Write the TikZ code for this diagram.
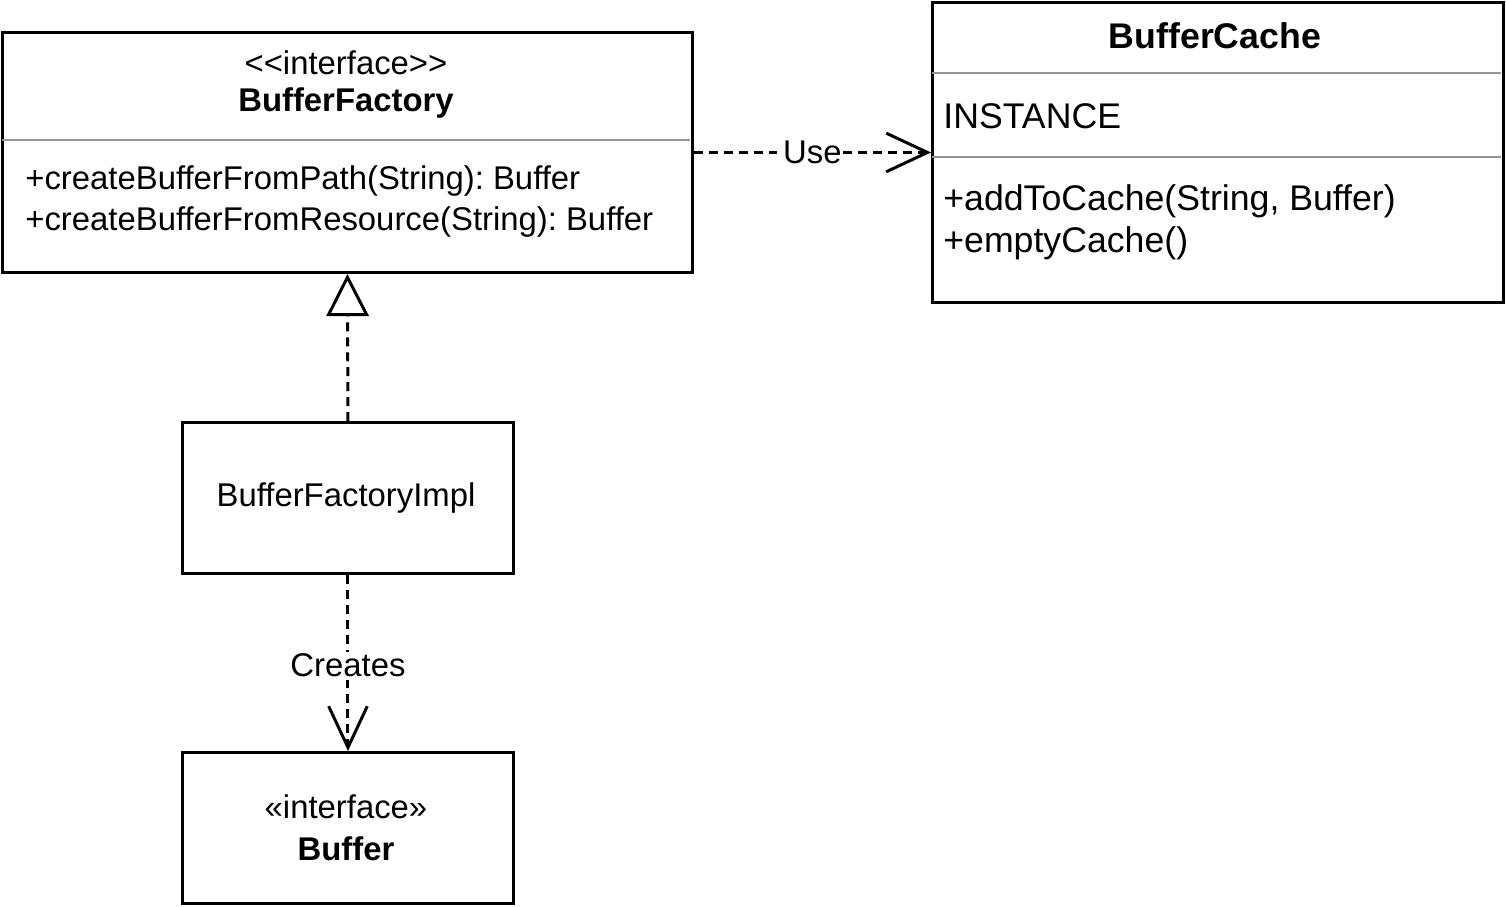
\documentclass[tikz,border=0pt]{standalone}
\usepackage{fontspec}
\setmainfont{Liberation Sans}
\usetikzlibrary{arrows.meta, positioning}
\definecolor{sepgray}{RGB}{150,150,150}
\frenchspacing
\tikzset{
  classbox/.style={rectangle, draw=black, line width=1.7pt, inner sep=0pt, anchor=north west},
  sepline/.style={draw=sepgray, line width=1.7pt},
  txt/.style={inner sep=0pt, font=\fontsize{18.7}{22}\selectfont},
  bigtxt/.style={inner sep=0pt, font=\fontsize{20.3}{24}\selectfont},
  depline/.style={line width=1.7pt, dash pattern=on 5.1pt off 3.4pt},
  usearrow/.style={depline, -{Straight Barb[length=23.5pt, width=22pt]}},
  realarrow/.style={depline, -{Triangle[open, length=24pt, width=24pt, fill=white]}},
  lbl/.style={fill=white, inner sep=1pt, font=\fontsize{18.7}{22}\selectfont}
}

\begin{document}
\begin{tikzpicture}[x=0.02cm, y=-0.02cm]
  \useasboundingbox (0,0) rectangle (1506,906);

  % class boxes
  \node[classbox, minimum width=13.8cm, minimum height=4.8cm] (factory) at (1,31) {};
  \node[classbox, minimum width=11.42cm, minimum height=6cm] (cache) at (931,1) {};
  \node[classbox, minimum width=6.62cm, minimum height=3.02cm] (impl) at (181,421) {};
  \node[classbox, minimum width=6.62cm, minimum height=3.02cm] (buffer) at (181,751) {};

  % compartments
  \draw[sepline] (2,140) -- (690,140);
  \draw[sepline] (932,73) -- (1501,73);
  \draw[sepline] (932,157) -- (1501,157);

  % BufferFactory
  \node[txt] (factorystereo) at (346,63) {<\kern0pt<interface>\kern0pt>};
  \node[txt, font=\fontsize{18.7}{22}\selectfont\bfseries] (factoryname) at (346,103) {BufferFactory};
  \node[txt, anchor=west] (factorym1) at (25,181) {+createBufferFromPath(String): Buffer};
  \node[txt, anchor=west] (factorym2) at (25,222) {+createBufferFromResource(String): Buffer};

  % BufferCache
  \node[bigtxt, font=\fontsize{20.3}{24}\selectfont\bfseries] (cachename) at (1215,36) {BufferCache};
  \node[bigtxt, anchor=west] (cachefield) at (943,116) {INSTANCE};
  \node[bigtxt, anchor=west] (cachem1) at (943,201) {+addToCache(String, Buffer)};
  \node[bigtxt, anchor=west] (cachem2) at (943,243) {+emptyCache()};

  % BufferFactoryImpl and Buffer
  \node[txt] (implname) at (346,498) {BufferFactoryImpl};
  \node[txt] (bufferstereo) at (346,807) {«interface»};
  \node[txt, font=\fontsize{18.7}{22}\selectfont\bfseries] (buffername) at (346,849) {Buffer};

  % relations
  \draw[usearrow] (factory.east) -- (factory.east -| cache.west)
    node[lbl, midway] {Use};
  \draw[realarrow] (impl.north) -- (factory.south);
  \draw[usearrow] (impl.south) -- (buffer.north)
    node[lbl, midway, yshift=-0.04cm] {Creates};
\end{tikzpicture}
\end{document}
